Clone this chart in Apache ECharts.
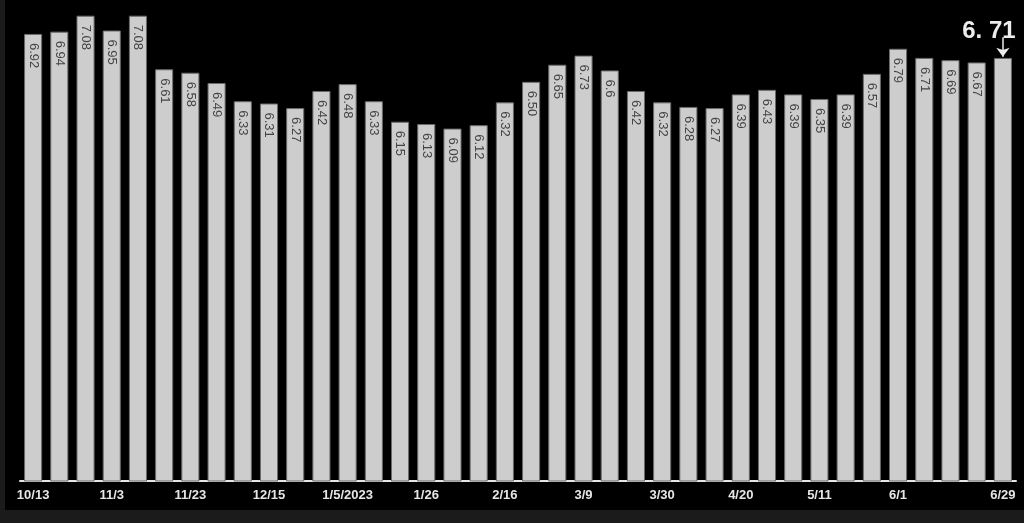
<!doctype html>
<html>
<head>
<meta charset="UTF-8">
<title>weekly rate</title>
<script src="https://cdn.jsdelivr.net/npm/echarts@6/dist/echarts.min.js"></script>
<style>
  html, body { margin: 0; padding: 0; background: #1b1b1b; }
  #chart { position: absolute; left: 5px; top: 0; width: 1019px; height: 510px; background: #000; }
</style>
</head>
<body>
<div id="chart"></div>
<script>
// weekly dates, 2022-10-13 .. 2023-06-29
var weeks = ['10/13', '10/20', '10/27', '11/3', '11/10', '11/17', '11/23', '12/1', '12/8', '12/15',
  '12/22', '12/29', '1/5/2023', '1/12', '1/19', '1/26', '2/2', '2/9', '2/16', '2/23',
  '3/2', '3/9', '3/16', '3/23', '3/30', '4/6', '4/13', '4/20', '4/27', '5/4',
  '5/11', '5/18', '5/25', '6/1', '6/8', '6/15', '6/22', '6/29'];
var rates = [6.92, 6.94, 7.08, 6.95, 7.08, 6.61, 6.58, 6.49, 6.33, 6.31,
  6.27, 6.42, 6.48, 6.33, 6.15, 6.13, 6.09, 6.12, 6.32, 6.50,
  6.65, 6.73, 6.6, 6.42, 6.32, 6.28, 6.27, 6.39, 6.43, 6.39,
  6.35, 6.39, 6.57, 6.79, 6.71, 6.69, 6.67, 6.71];
var rateText = ['6.92', '6.94', '7.08', '6.95', '7.08', '6.61', '6.58', '6.49', '6.33', '6.31',
  '6.27', '6.42', '6.48', '6.33', '6.15', '6.13', '6.09', '6.12', '6.32', '6.50',
  '6.65', '6.73', '6.6', '6.42', '6.32', '6.28', '6.27', '6.39', '6.43', '6.39',
  '6.35', '6.39', '6.57', '6.79', '6.71', '6.69', '6.67', ''];
var shownTicks = ['10/13', '11/3', '11/23', '12/15', '1/5/2023', '1/26', '2/16', '3/9',
  '3/30', '4/20', '5/11', '6/1', '6/29'];
var lastText = '6. 71';

var last = rates.length - 1;
var barData = rates.map(function (v, i) {
  if (i !== last) return v;
  return {
    value: v,
    label: {
      show: true, position: 'top', rotate: 0, align: 'center', verticalAlign: 'bottom',
      distance: 15, offset: [-14, 0],
      formatter: lastText,
      color: '#ececec', fontSize: 24, fontWeight: 'bold'
    }
  };
});

var myChart = echarts.init(document.getElementById('chart'));
myChart.setOption({
  backgroundColor: '#000',
  animation: false,
  grid: { left: 15, right: 8, top: 2, bottom: 29 },
  xAxis: {
    type: 'category',
    data: weeks,
    axisLine: { lineStyle: { color: '#e6e6e6', width: 2 } },
    axisTick: { show: false },
    axisLabel: {
      interval: 0,
      formatter: function (v) { return shownTicks.indexOf(v) >= 0 ? v : ''; },
      color: '#e6e6e6',
      fontFamily: 'Liberation Sans',
      fontWeight: 'bold',
      fontSize: 13,
      margin: 8
    }
  },
  yAxis: {
    type: 'value',
    min: 3,
    max: 7.2,
    show: false,
    splitLine: { show: false }
  },
  series: [{
    type: 'bar',
    data: barData,
    barCategoryGap: '31%',
    itemStyle: { color: '#cdcdcd', borderColor: '#6a6a6a', borderWidth: 1 },
    label: {
      show: true,
      position: 'insideTop',
      distance: 9,
      rotate: -90,
      align: 'left',
      verticalAlign: 'middle',
      formatter: function (p) { return rateText[p.dataIndex]; },
      color: '#444',
      fontFamily: 'Liberation Sans',
      fontSize: 13
    },
    markLine: {
      silent: true,
      symbol: ['none', 'arrow'],
      symbolSize: [10, 9],
      lineStyle: { color: '#ececec', width: 1.5, type: 'solid' },
      label: { show: false },
      data: [[
        { coord: [weeks[last], rates[last] + 0.18] },
        { coord: [weeks[last], rates[last] + 0.01] }
      ]]
    }
  }]
});
</script>
</body>
</html>
